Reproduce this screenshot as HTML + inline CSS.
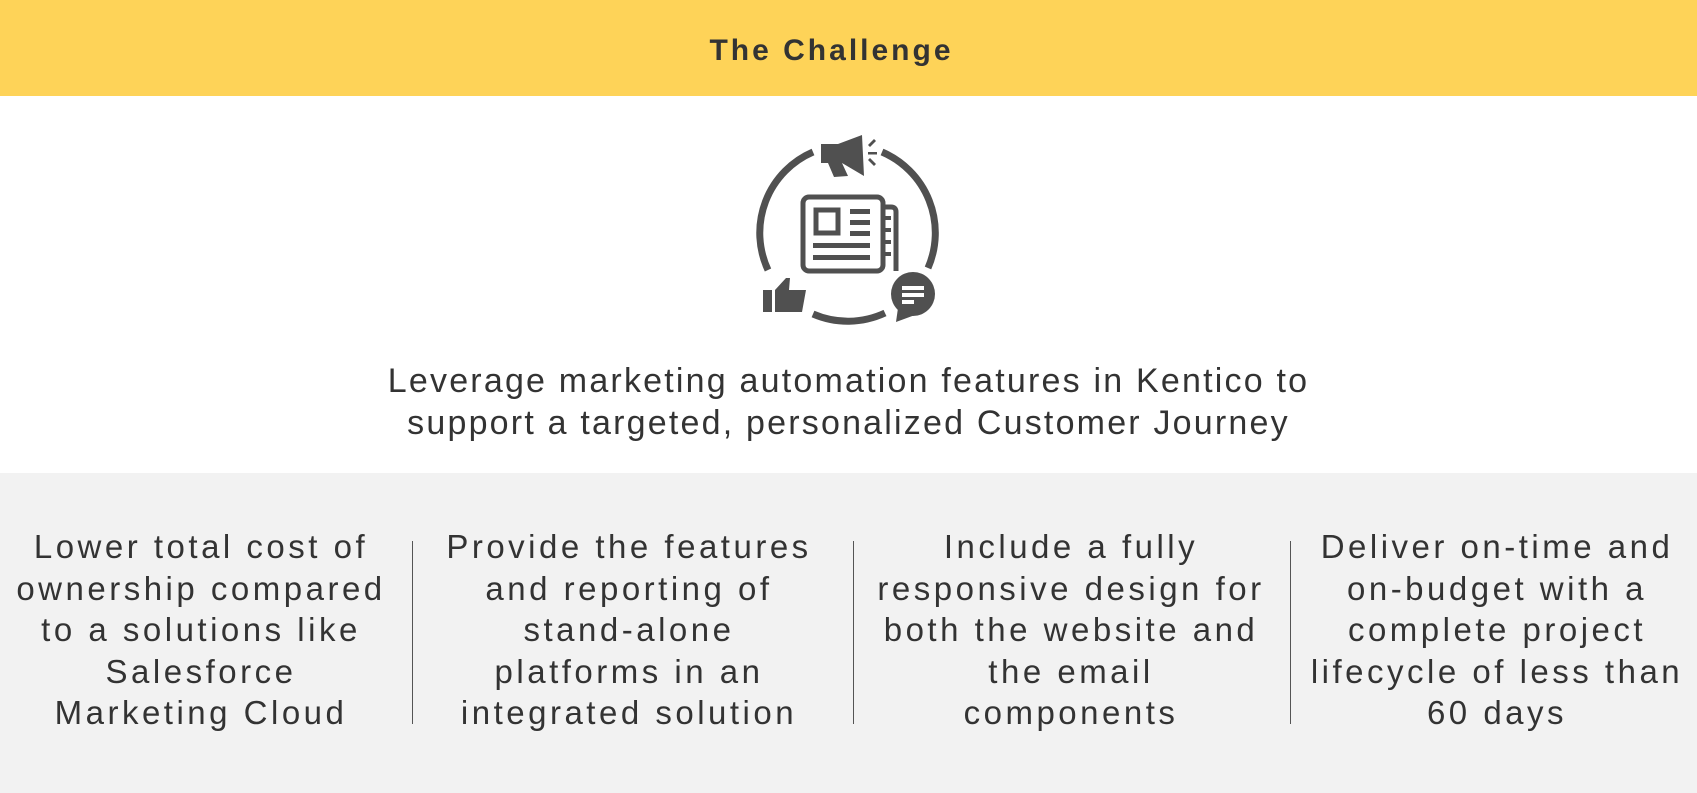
<!DOCTYPE html>
<html><head><meta charset="utf-8"><style>
html,body{margin:0;padding:0;width:1697px;height:793px;overflow:hidden;background:#fff;font-family:"Liberation Sans",sans-serif;color:#333;}
.top{position:absolute;left:0;top:0;width:1697px;height:96px;background:#fed358;}
.title{position:absolute;left:-17px;top:0;width:1697px;line-height:102px;text-align:center;font-weight:bold;font-size:30px;letter-spacing:3px;color:#333;}
.main{position:absolute;left:0;top:360px;width:1697px;text-align:center;font-size:34px;line-height:42px;letter-spacing:2.2px;color:#333;}
.grey{position:absolute;left:0;top:473px;width:1697px;height:320px;background:#f2f2f2;}
.col{position:absolute;top:526px;width:420px;text-align:center;font-size:33px;line-height:41.5px;letter-spacing:3.5px;color:#333;white-space:nowrap;}
.div{position:absolute;width:1px;background:#555;top:541px;height:183px;}
</style></head><body>
<div class="top"></div>
<div class="title">The Challenge</div>
<svg style="position:absolute;left:0;top:0" width="1697" height="473">
<g fill="none" stroke="#505050" stroke-width="7">
<path d="M813 152 A88 88 0 0 0 768 270"/>
<path d="M882 152 A88 88 0 0 1 928 268"/>
<path d="M813 314 A88 88 0 0 0 885 313"/>
</g>
<g fill="#505050">
<path d="M821 144 L838 144 L862 135 L864 176 L842 163 L848 176 L834 177 L828 163 L821 163 Z"/>
<rect x="868" y="152" width="9" height="2.5"/>
<path d="M868 145 L874 139 L876 141 L870 147Z"/>
<path d="M868 160 L870 158 L876 164 L874 166Z"/>
</g>
<g fill="none" stroke="#505050" stroke-width="5">
<rect x="803" y="197" width="80" height="74" rx="6"/>
<path d="M883 207 L891 207 Q896 207 896 212 L896 271"/>
<rect x="816" y="210" width="22" height="23"/>
</g>
<g fill="#505050">
<rect x="850" y="209" width="20" height="5"/><rect x="850" y="220" width="20" height="5"/><rect x="850" y="231" width="20" height="5"/>
<rect x="813" y="243" width="57" height="5"/><rect x="813" y="255" width="57" height="5"/>
<rect x="885" y="216" width="6" height="4"/><rect x="885" y="228" width="6" height="4"/><rect x="885" y="240" width="6" height="4"/><rect x="885" y="252" width="6" height="4"/>
</g>
<g fill="#505050">
<rect x="763" y="290" width="9" height="22"/>
<path d="M775 290 L786 278 L790 278 L789 290 L806 290 L802 312 L775 312 Z"/>
</g>
<circle cx="913" cy="294" r="22" fill="#505050"/>
<path d="M898 308 L896 322 L915 315 Z" fill="#505050"/>
<g fill="#fff"><rect x="902" y="286" width="22" height="4"/><rect x="902" y="293" width="22" height="4"/><rect x="902" y="300" width="12" height="4"/></g>
</svg>
<div class="main">Leverage marketing automation features in Kentico to<br>support a targeted, personalized Customer Journey</div>
<div class="grey"></div>
<div class="col" style="left:-9px">Lower total cost of<br>ownership compared<br>to a solutions like<br>Salesforce<br>Marketing Cloud</div>
<div class="div" style="left:412px"></div>
<div class="col" style="left:419px">Provide the features<br>and reporting of<br>stand-alone<br>platforms in an<br>integrated solution</div>
<div class="div" style="left:853px"></div>
<div class="col" style="left:861px">Include a fully<br>responsive design for<br>both the website and<br>the email<br>components</div>
<div class="div" style="left:1290px"></div>
<div class="col" style="left:1287px">Deliver on-time and<br>on-budget with a<br>complete project<br>lifecycle of less than<br>60 days</div>
</body></html>
